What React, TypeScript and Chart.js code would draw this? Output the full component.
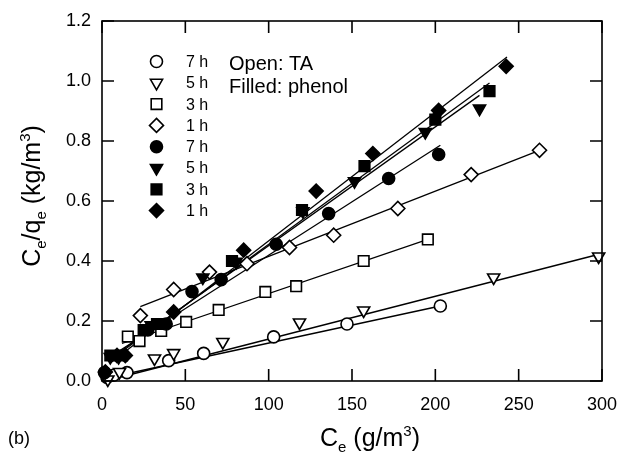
import React, { useEffect, useRef } from 'react';
import { Chart, registerables } from 'chart.js';

Chart.register(...registerables);

// ---- data ----
const legendLabels = ['7 h', '5 h', '3 h', '1 h', '7 h', '5 h', '3 h', '1 h'];
const xTickValues = [0, 50, 100, 150, 200, 250, 300];
const yTickValues = [0, 0.2, 0.4, 0.6, 0.8, 1.0, 1.2];

const ta7hX = [3, 7, 15, 40, 61, 103, 147, 203];
const ta7hY = [0.012, 0.019, 0.028, 0.068, 0.092, 0.147, 0.19, 0.25];
const ta5hX = [3.5, 10.5, 31.5, 43, 72.5, 118.5, 157, 235, 298];
const ta5hY = [0.005, 0.03, 0.075, 0.093, 0.13, 0.195, 0.235, 0.345, 0.415];
const ta3hX = [15.5, 22.5, 35.5, 50.5, 70, 98, 116.5, 157, 195.5];
const ta3hY = [0.148, 0.133, 0.167, 0.197, 0.237, 0.297, 0.316, 0.4, 0.472];
const ta1hX = [23, 43, 64.5, 87, 112.5, 139, 177.5, 221.5, 262.5];
const ta1hY = [0.218, 0.305, 0.363, 0.391, 0.445, 0.486, 0.575, 0.688, 0.769];

const ph7hX = [1.5, 27.5, 38.5, 54, 71.5, 104.5, 136, 172, 202];
const ph7hY = [0.028, 0.17, 0.19, 0.298, 0.338, 0.456, 0.558, 0.675, 0.755];
const ph5hX = [5, 10, 29.5, 60.5, 80.5, 120.5, 151.5, 194, 226.5];
const ph5hY = [0.08, 0.08, 0.186, 0.345, 0.397, 0.566, 0.666, 0.83, 0.908];
const ph3hX = [5, 12, 25, 33, 78, 120, 157.5, 200, 232.5];
const ph3hY = [0.085, 0.085, 0.17, 0.19, 0.4, 0.57, 0.716, 0.871, 0.966];
const ph1hX = [2, 9, 14, 43, 85, 128.5, 162.5, 202, 242.5];
const ph1hY = [0.03, 0.085, 0.085, 0.23, 0.436, 0.633, 0.758, 0.902, 1.049];

// fitted lines (end points)
const ta7hFitX = [3, 203];
const ta7hFitY = [0.01, 0.25];
const ta5hFitX = [2, 300];
const ta5hFitY = [0.0, 0.425];
const ta3hFitX = [12, 195.5];
const ta3hFitY = [0.125, 0.472];
const ta1hFitX = [23, 262.5];
const ta1hFitY = [0.248, 0.769];
const ph7hFitX = [3, 203];
const ph7hFitY = [0.074, 0.786];
const ph5hFitX = [5, 226.5];
const ph5hFitY = [0.075, 0.952];
const ph3hFitX = [5, 232.5];
const ph3hFitY = [0.07, 0.993];
const ph1hFitX = [5, 243];
const ph1hFitY = [0.06, 1.08];

const FONT = '"Liberation Sans", Arial, Helvetica, sans-serif';

type Sty = { style: string; radius: number; rotation: number };
const STYLES: Sty[] = [
  { style: 'circle', radius: 6, rotation: 0 },
  { style: 'triangle', radius: 7, rotation: 180 },
  { style: 'rect', radius: 7.5, rotation: 0 },
  { style: 'rectRot', radius: 7, rotation: 0 },
];

const pts = (xs: number[], ys: number[]) => xs.map((x, i) => ({ x, y: ys[i] }));

function drawMarker(ctx: CanvasRenderingContext2D, kind: number, x: number, y: number, filled: boolean) {
  const s = STYLES[kind];
  const r = s.radius;
  ctx.beginPath();
  if (s.style === 'circle') {
    ctx.arc(x, y, r, 0, Math.PI * 2);
  } else if (s.style === 'triangle') {
    const a = (s.rotation * Math.PI) / 180;
    for (let k = 0; k < 3; k++) {
      const ang = a + (k * 2 * Math.PI) / 3;
      const px = x + Math.sin(ang) * r;
      const py = y - Math.cos(ang) * r;
      if (k === 0) ctx.moveTo(px, py);
      else ctx.lineTo(px, py);
    }
    ctx.closePath();
  } else if (s.style === 'rect') {
    const h = Math.SQRT1_2 * r;
    ctx.rect(x - h, y - h, 2 * h, 2 * h);
  } else {
    ctx.moveTo(x, y - r);
    ctx.lineTo(x + r, y);
    ctx.lineTo(x, y + r);
    ctx.lineTo(x - r, y);
    ctx.closePath();
  }
  ctx.fillStyle = filled ? '#000' : '#fff';
  ctx.fill();
  ctx.lineWidth = 1.6;
  ctx.strokeStyle = '#000';
  ctx.stroke();
}

const decorPlugin = {
  id: 'decor',
  afterDraw(chart: any) {
    const ctx: CanvasRenderingContext2D = chart.ctx;
    const { left, right, top, bottom } = chart.chartArea;
    const xs = chart.scales.x;
    const ys = chart.scales.y;
    ctx.save();
    // frame
    ctx.strokeStyle = '#000';
    ctx.lineWidth = 1.6;
    ctx.strokeRect(left, top, right - left, bottom - top);
    // inward ticks on all four sides
    const tl = 12;
    ctx.beginPath();
    xTickValues.forEach((v) => {
      const px = xs.getPixelForValue(v);
      ctx.moveTo(px, bottom);
      ctx.lineTo(px, bottom - tl);
      ctx.moveTo(px, top);
      ctx.lineTo(px, top + tl);
    });
    yTickValues.forEach((v) => {
      const py = ys.getPixelForValue(v);
      ctx.moveTo(left, py);
      ctx.lineTo(left + tl, py);
      ctx.moveTo(right, py);
      ctx.lineTo(right - tl, py);
    });
    ctx.stroke();

    // legend
    const lx = 156.5;
    const ty = 61.5;
    const dy = 21.3;
    ctx.fillStyle = '#000';
    ctx.font = `16px ${FONT}`;
    ctx.textBaseline = 'middle';
    ctx.textAlign = 'left';
    legendLabels.forEach((lab, i) => {
      const yy = ty + i * dy;
      drawMarker(ctx, i % 4, lx, yy, i >= 4);
      ctx.fillStyle = '#000';
      ctx.fillText(lab, 186, yy + 1);
    });
    ctx.font = `20px ${FONT}`;
    ctx.textBaseline = 'alphabetic';
    ctx.fillText('Open: TA', 229, 70);
    ctx.fillText('Filled: phenol', 229, 93);

    // x axis title: C_e (g/m^3)
    const big = 25;
    const small = 15;
    const parts = [
      { t: 'C', f: big, dy: 0 },
      { t: 'e', f: small, dy: 6 },
      { t: ' (g/m', f: big, dy: 0 },
      { t: '3', f: small, dy: -10 },
      { t: ')', f: big, dy: 0 },
    ];
    let total = 0;
    parts.forEach((p) => {
      ctx.font = `${p.f}px ${FONT}`;
      total += ctx.measureText(p.t).width;
    });
    let cx = 370 - total / 2;
    const baseX = 446;
    parts.forEach((p) => {
      ctx.font = `${p.f}px ${FONT}`;
      ctx.fillText(p.t, cx, baseX + p.dy);
      cx += ctx.measureText(p.t).width;
    });

    // (b)
    ctx.font = `18px ${FONT}`;
    ctx.fillText('(b)', 8, 444);

    // y axis title: C_e/q_e (kg/m^3)
    const yparts = [
      { t: 'C', f: big, dy: 0 },
      { t: 'e', f: small, dy: 6 },
      { t: '/q', f: big, dy: 0 },
      { t: 'e', f: small, dy: 6 },
      { t: ' (kg/m', f: big, dy: 0 },
      { t: '3', f: small, dy: -10 },
      { t: ')', f: big, dy: 0 },
    ];
    let ytotal = 0;
    yparts.forEach((p) => {
      ctx.font = `${p.f}px ${FONT}`;
      ytotal += ctx.measureText(p.t).width;
    });
    ctx.translate(40, 196);
    ctx.rotate(-Math.PI / 2);
    let cy = -ytotal / 2;
    yparts.forEach((p) => {
      ctx.font = `${p.f}px ${FONT}`;
      ctx.fillText(p.t, cy, p.dy);
      cy += ctx.measureText(p.t).width;
    });
    ctx.restore();
  },
};

function scatterSet(xs: number[], ys: number[], kind: number, filled: boolean) {
  const s = STYLES[kind];
  return {
    type: 'scatter' as const,
    data: pts(xs, ys),
    pointStyle: s.style,
    pointRotation: s.rotation,
    pointRadius: s.radius,
    pointBorderWidth: 1.6,
    pointBackgroundColor: filled ? '#000' : '#fff',
    pointBorderColor: '#000',
    showLine: false,
    order: 0,
  };
}

function lineSet(xs: number[], ys: number[]) {
  return {
    type: 'line' as const,
    data: pts(xs, ys),
    borderColor: '#000',
    borderWidth: 1.3,
    pointRadius: 0,
    fill: false,
    order: 1,
  };
}

export default function App() {
  const ref = useRef<HTMLCanvasElement>(null);
  useEffect(() => {
    if (!ref.current) return;
    const chart = new Chart(ref.current, {
      type: 'scatter',
      data: {
        datasets: [
          lineSet(ta7hFitX, ta7hFitY),
          lineSet(ta5hFitX, ta5hFitY),
          lineSet(ta3hFitX, ta3hFitY),
          lineSet(ta1hFitX, ta1hFitY),
          lineSet(ph7hFitX, ph7hFitY),
          lineSet(ph5hFitX, ph5hFitY),
          lineSet(ph3hFitX, ph3hFitY),
          lineSet(ph1hFitX, ph1hFitY),
          scatterSet(ph1hX, ph1hY, 3, true),
          scatterSet(ph3hX, ph3hY, 2, true),
          scatterSet(ph5hX, ph5hY, 1, true),
          scatterSet(ph7hX, ph7hY, 0, true),
          scatterSet(ta1hX, ta1hY, 3, false),
          scatterSet(ta3hX, ta3hY, 2, false),
          scatterSet(ta5hX, ta5hY, 1, false),
          scatterSet(ta7hX, ta7hY, 0, false),
        ] as any,
      },
      options: {
        animation: false,
        responsive: false,
        maintainAspectRatio: false,
        clip: false as any,
        layout: { padding: { top: 21, right: 22, left: 0, bottom: 0 } },
        plugins: { legend: { display: false }, tooltip: { enabled: false } },
        scales: {
          x: {
            type: 'linear',
            min: 0,
            max: 300,
            afterFit: (s: any) => {
              s.height = 84;
              s.paddingLeft = 0;
              s.paddingRight = 0;
            },
            afterBuildTicks: (s: any) => {
              s.ticks = xTickValues.map((v) => ({ value: v }));
            },
            grid: { display: false, drawTicks: false },
            border: { display: false },
            ticks: {
              color: '#000',
              font: { family: FONT, size: 18 },
              padding: 13,
              maxRotation: 0,
              callback: (v: any) => String(v),
            },
          },
          y: {
            type: 'linear',
            min: 0,
            max: 1.2,
            afterFit: (s: any) => {
              s.width = 102;
              s.paddingTop = 0;
              s.paddingBottom = 0;
            },
            afterBuildTicks: (s: any) => {
              s.ticks = yTickValues.map((v) => ({ value: v }));
            },
            grid: { display: false, drawTicks: false },
            border: { display: false },
            ticks: {
              color: '#000',
              font: { family: FONT, size: 18 },
              padding: 11,
              callback: (v: any) => Number(v).toFixed(1),
            },
          },
        },
      },
      plugins: [decorPlugin],
    });
    return () => chart.destroy();
  }, []);
  return (
    <div style={{ position: 'absolute', left: 0, top: 0, width: 624, height: 465, background: '#fff' }}>
      <canvas ref={ref} width={624} height={465} style={{ width: 624, height: 465, display: 'block' }} />
    </div>
  );
}
